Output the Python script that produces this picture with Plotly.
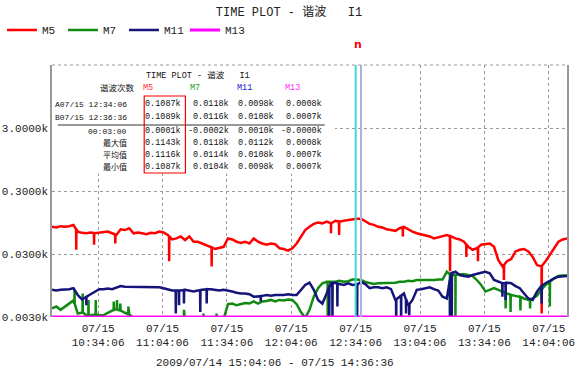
import numpy as np
import pandas as pd
import plotly.graph_objects as go

# ---- time base -------------------------------------------------------------
view_start = pd.Timestamp("2009-07-15 10:12:36")
view_minutes = 240
sample_minutes = np.arange(0, 241, 2)          # one reading every 2 minutes

tick_times = pd.date_range("2009-07-15 10:34:06", periods=8, freq="30min")
tick_text = [t.strftime("%m/%d<br>%H:%M:%S") for t in tick_times]

# ---- harmonic currents (k units) -------------------------------------------
m5 = [0.081, 0.079, 0.083, 0.081, 0.083, 0.087, 0.068, 0.065, 0.064, 0.066,
      0.064, 0.065, 0.066, 0.068, 0.064, 0.060, 0.074, 0.072, 0.077, 0.064,
      0.066, 0.064, 0.062, 0.065, 0.064, 0.068, 0.066, 0.060, 0.051, 0.053,
      0.057, 0.050, 0.057, 0.047, 0.047, 0.044, 0.042, 0.039, 0.036, 0.037,
      0.039, 0.053, 0.051, 0.047, 0.045, 0.047, 0.044, 0.053, 0.047, 0.044,
      0.042, 0.044, 0.043, 0.037, 0.036, 0.034, 0.037, 0.044, 0.057, 0.072,
      0.081, 0.090, 0.095, 0.092, 0.098, 0.092, 0.101, 0.098, 0.101, 0.104,
      0.107, 0.109, 0.109, 0.098, 0.090, 0.087, 0.081, 0.079, 0.074, 0.072,
      0.070, 0.077, 0.081, 0.074, 0.068, 0.064, 0.062, 0.060, 0.057, 0.053,
      0.055, 0.057, 0.060, 0.057, 0.053, 0.051, 0.047, 0.039, 0.035, 0.037,
      0.042, 0.043, 0.044, 0.039, 0.024, 0.019, 0.023, 0.025, 0.033, 0.035,
      0.036, 0.033, 0.027, 0.020, 0.019, 0.023, 0.029, 0.037, 0.047, 0.051,
      0.053]
m7 = [0.0041, 0.0044, 0.0039, 0.0044, 0.0049, 0.0055, 0.0034, 0.0036, 0.0032, 0.0032,
      0.0033, 0.0032, 0.0032, 0.0035, 0.0038, 0.0040, 0.0038, 0.0035, 0.0033, 0.0029,
      0.0027, 0.0026, 0.0027, 0.0025, 0.0026, 0.0027, 0.0026, 0.0025, 0.0026, 0.0027,
      0.0026, 0.0025, 0.0026, 0.0027, 0.0026, 0.0025, 0.0026, 0.0027, 0.0026, 0.0027,
      0.0028, 0.0048, 0.0049, 0.0046, 0.0048, 0.0050, 0.0049, 0.0053, 0.0049, 0.0053,
      0.0054, 0.0056, 0.0053, 0.0056, 0.0055, 0.0057, 0.0056, 0.0048, 0.0036, 0.0029,
      0.0039, 0.0063, 0.0086, 0.0103, 0.0109, 0.0109, 0.0109, 0.0113, 0.0109, 0.0111,
      0.0118, 0.0118, 0.0116, 0.0108, 0.0103, 0.0100, 0.0103, 0.0103, 0.0105, 0.0103,
      0.0105, 0.0109, 0.0109, 0.0113, 0.0111, 0.0116, 0.0116, 0.0113, 0.0116, 0.0116,
      0.0118, 0.0118, 0.0157, 0.0139, 0.0139, 0.0143, 0.0143, 0.0139, 0.0134, 0.0116,
      0.0097, 0.0076, 0.0081, 0.0086, 0.0081, 0.0076, 0.0071, 0.0067, 0.0065, 0.0063,
      0.0059, 0.0056, 0.0059, 0.0065, 0.0081, 0.0097, 0.0109, 0.0123, 0.0134, 0.0137,
      0.0137]
m11 = [0.0081, 0.0079, 0.0081, 0.0081, 0.0083, 0.0086, 0.0067, 0.0057, 0.0063, 0.0069,
       0.0076, 0.0083, 0.0083, 0.0085, 0.0083, 0.0089, 0.0093, 0.0091, 0.0091, 0.0089,
       0.0091, 0.0089, 0.0089, 0.0091, 0.0089, 0.0089, 0.0086, 0.0083, 0.0079, 0.0079,
       0.0079, 0.0081, 0.0079, 0.0076, 0.0079, 0.0081, 0.0083, 0.0083, 0.0081, 0.0079,
       0.0081, 0.0079, 0.0076, 0.0073, 0.0071, 0.0071, 0.0069, 0.0063, 0.0063, 0.0065,
       0.0067, 0.0065, 0.0067, 0.0067, 0.0067, 0.0069, 0.0067, 0.0067, 0.0081, 0.0097,
       0.0105, 0.0081, 0.0056, 0.0049, 0.0071, 0.0103, 0.0105, 0.0100, 0.0097, 0.0103,
       0.0097, 0.0098, 0.0108, 0.0100, 0.0086, 0.0089, 0.0089, 0.0086, 0.0089, 0.0083,
       0.0056, 0.0063, 0.0071, 0.0046, 0.0056, 0.0081, 0.0083, 0.0086, 0.0089, 0.0083,
       0.0079, 0.0063, 0.0059, 0.0148, 0.0157, 0.0139, 0.0134, 0.0131, 0.0139, 0.0143,
       0.0151, 0.0157, 0.0148, 0.0116, 0.0109, 0.0103, 0.0105, 0.0103, 0.0093, 0.0086,
       0.0071, 0.0059, 0.0056, 0.0076, 0.0093, 0.0103, 0.0113, 0.0123, 0.0131, 0.0134,
       0.0134]
m13_minutes = [0, 30, 60, 90, 120, 150, 180, 210, 240]
m13 = [0.0008, 0.0008, 0.0007, 0.0007, 0.0008, 0.0007, 0.0007, 0.0008, 0.0007]

# short transients (minute, value)
m5_spike_min = [11.3, 19.6, 29.5, 54.6, 74.4, 130.0, 133.8, 163.5, 185.5, 193.1, 198.5, 210.6, 228.2]
m5_spike_val = [0.035, 0.042, 0.044, 0.023, 0.019, 0.064, 0.060, 0.057, 0.016, 0.027, 0.023, 0.0116, 0.0034]
m7_spike_min = [10.5, 14.3, 17.0, 20.4, 28.8, 30.3, 31.8, 35.6, 61.5, 70.6, 76.7,
                128.5, 185.5, 188.0, 211.4, 213.7, 218.3, 222.8, 232.0]
m7_spike_val = [0.0081, 0.0071, 0.0056, 0.0056, 0.0053, 0.0056, 0.0049, 0.0044, 0.0039, 0.0034, 0.0034,
                0.0025, 0.0025, 0.0025, 0.0041, 0.0036, 0.0038, 0.0041, 0.0044]
m11_spike_min = [16.0, 57.7, 59.2, 61.5, 69.1, 72.1, 97.3, 129.2, 130.7, 133.0, 142.2,
                 160.4, 162.7, 165.0, 166.5, 185.5, 186.3, 209.9, 211.4, 228.2]
m11_spike_val = [0.0046, 0.0034, 0.0046, 0.0049, 0.0036, 0.0049, 0.0053, 0.0025, 0.0025, 0.0044, 0.0025,
                 0.0025, 0.0025, 0.0034, 0.0032, 0.0025, 0.0025, 0.0063, 0.0056, 0.0049]

# ---- cursor read-out --------------------------------------------------------
series_names = ["M5", "M7", "M11", "M13"]
series_colors = ["#ff0000", "#108a10", "#14147a", "#ff00ff"]
header_colors = ["#ff3030", "#22a022", "#2222cc", "#ff30ff"]
cursor_a_time = "2009-07-15 12:34:06"
cursor_b_time = "2009-07-15 12:36:36"
row_labels = ["A07/15 12:34:06", "B07/15 12:36:36", "00:03:00", "最大值", "平均值", "最小值"]
row_values = [
    [0.1087, 0.0118, 0.0098, 0.0008],
    [0.1089, 0.0116, 0.0108, 0.0007],
    [0.0001, -0.0002, 0.0010, -0.00001],
    [0.1143, 0.0118, 0.0112, 0.0008],
    [0.1116, 0.0114, 0.0108, 0.0007],
    [0.1087, 0.0104, 0.0098, 0.0007],
]

y_floor, y_top = 0.003, 30.0
y_ticks = [0.003, 0.03, 0.3, 3.0]
y_tick_text = [f"{v:.4f}k" for v in y_ticks]

FONT = "Liberation Mono, Noto Sans CJK SC, monospace"


def build_series(base, spike_min, spike_val):
    t = list(sample_minutes.astype(float))
    v = list(base)
    log_base = np.log10(base)
    for ts, sv in zip(spike_min, spike_val):
        lvl = 10 ** np.interp(ts, sample_minutes, log_base)
        t += [ts - 0.08, ts, ts + 0.08]
        v += [lvl, sv, lvl]
    order = np.argsort(t, kind="stable")
    t = np.asarray(t)[order]
    v = np.asarray(v)[order]
    return view_start + pd.to_timedelta(t, unit="min"), v


fig = go.Figure()
for name, color, base, smin, sval in [
    ("M5", series_colors[0], m5, m5_spike_min, m5_spike_val),
    ("M7", series_colors[1], m7, m7_spike_min, m7_spike_val),
    ("M11", series_colors[2], m11, m11_spike_min, m11_spike_val),
]:
    x, y = build_series(base, smin, sval)
    fig.add_trace(go.Scatter(x=x, y=y, mode="lines", name=name,
                             line=dict(color=color, width=2.5)))

# M13 sits below the scale floor; the recorder pins it to the bottom edge
fig.add_trace(go.Scatter(
    x=view_start + pd.to_timedelta(m13_minutes, unit="min"),
    y=np.maximum(m13, y_floor), mode="lines", name="M13",
    line=dict(color=series_colors[3], width=3)))

# ---- helpers for placing the read-out panel (pixel -> paper) --------------
PL, PR, PT, PB = 50, 575, 65, 317


def px(x):
    return (x - PL) / (PR - PL)


def py(y):
    return (PB - y) / (PB - PT)


shapes = []
annotations = []


def note(x, y, text, color="#111111", size=8.5, xanchor="center", family=FONT):
    annotations.append(dict(xref="paper", yref="paper", x=x, y=y, text=text,
                            xanchor=xanchor, yanchor="middle", showarrow=False,
                            font=dict(family=family, size=size, color=color)))


# read-out panel background (hides the grid underneath)
shapes.append(dict(type="rect", xref="paper", yref="paper", x0=px(50.8), x1=px(338),
                   y0=py(173), y1=py(66), fillcolor="#ffffff", opacity=1,
                   line=dict(color="#ffffff", width=1), layer="above"))
shapes.append(dict(type="line", xref="paper", yref="paper", x0=px(56), x1=px(328),
                   y0=py(125), y1=py(125), line=dict(color="#333333", width=1), layer="above"))

# cursors
for ct, col in [(cursor_a_time, "#40d8d0"), (cursor_b_time, "#b0b0e0")]:
    shapes.append(dict(type="line", xref="x", yref="paper", x0=ct, x1=ct, y0=0, y1=1,
                       line=dict(color=col, width=2), layer="above"))
mid_cursor = pd.Timestamp(cursor_a_time) + (pd.Timestamp(cursor_b_time) - pd.Timestamp(cursor_a_time)) / 2
annotations.append(dict(xref="x", yref="paper", x=mid_cursor, y=py(44), text="<b>n</b>",
                        yanchor="middle", showarrow=False,
                        font=dict(family="DejaVu Sans", size=11, color="#ff0000")))

# top border (dashed)
shapes.append(dict(type="line", xref="paper", yref="paper", x0=0, x1=1, y0=1, y1=1,
                   line=dict(color="#999999", width=1, dash="3px,3px"), layer="above"))

col_right = [184, 232, 278, 327]
col_head = [141, 189, 237, 285]
row_y = [104, 117, 131, 143, 155, 167]
label_right = 129

note(px(199), py(76), "TIME PLOT - 谐波\u00a0\u00a0 I1")
note(px(97), py(88), "谐波次数", xanchor="left")
for name, hc, hx in zip(series_names, header_colors, col_head):
    note(px(hx), py(88), name, color=hc, xanchor="left")
for lab, vals, ry in zip(row_labels, row_values, row_y):
    note(px(label_right), py(ry), lab, xanchor="right", size=8)
    for v, cx in zip(vals, col_right):
        note(px(cx), py(ry), f"{v:.4f}k", xanchor="right")

# highlight of the M5 column
shapes.append(dict(type="rect", xref="paper", yref="paper", x0=px(144), x1=px(186),
                   y0=py(173), y1=py(96), line=dict(color="#ff0000", width=1.2), layer="above"))

# overall recording span
note(px(277), py(363), "2009/07/14 15:04:06 - 07/15 14:36:36", color="#222222", size=11)

fig.update_layout(
    width=577, height=372,
    margin=dict(l=PL, r=577 - PR, t=PT, b=372 - PB),
    paper_bgcolor="white", plot_bgcolor="white",
    title=dict(text="TIME PLOT - 谐波\u00a0\u00a0 I1", x=289 / 577, xanchor="center",
               y=1 - 12 / 372, yanchor="middle", yref="container",
               font=dict(family=FONT, size=12, color="#222222")),
    showlegend=True,
    legend=dict(orientation="h", x=px(-1), xanchor="left", y=py(30), yanchor="middle",
                font=dict(family=FONT, size=11, color="#222222"),
                entrywidth=16, entrywidthmode="pixels", bgcolor="rgba(0,0,0,0)",
                traceorder="normal"),
    xaxis=dict(type="date",
               range=[view_start, view_start + pd.Timedelta(minutes=view_minutes)],
               tickvals=tick_times, ticktext=tick_text, ticks="",
               ticklabeloverflow="allow", ticklabelstandoff=3,
               showgrid=True, gridcolor="#999999", gridwidth=1, griddash="3px,3px",
               showline=False, zeroline=False,
               tickfont=dict(family=FONT, size=11, color="#222222")),
    yaxis=dict(type="log", range=[np.log10(y_floor), np.log10(y_top)],
               tickvals=y_ticks, ticktext=y_tick_text, ticks="",
               showgrid=True, gridcolor="#999999", gridwidth=1, griddash="3px,3px",
               showline=True, mirror=True, linecolor="#999999", linewidth=1.5,
               zeroline=False, tickfont=dict(family=FONT, size=11, color="#222222")),
    shapes=shapes, annotations=annotations,
)

fig.write_html("out.html")
